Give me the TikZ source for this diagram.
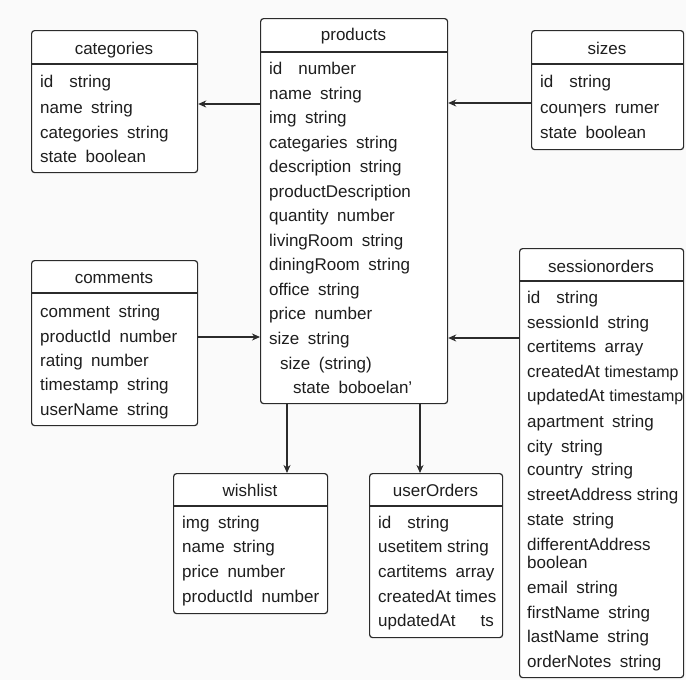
\documentclass[tikz,border=0pt]{standalone}
\usepackage{fontspec}
\setmainfont{Liberation Sans}
\usetikzlibrary{arrows.meta}
\definecolor{linec}{HTML}{2B2B2B}
\definecolor{textc}{HTML}{1E1E1E}
\definecolor{bgc}{HTML}{FAFAFA}
\newcommand\fgap{\hspace{8.5pt}}
\newcommand\igap{\hspace{16pt}}
\begin{document}
\begin{tikzpicture}[x=1pt,y=-1pt,
  tbl/.style={draw=linec, line width=1.2pt, rounded corners=3pt, fill=white, inner sep=0pt, anchor=north west},
  hline/.style={draw=linec, line width=1.2pt},
  ttl/.style={font=\fontsize{17}{20}\selectfont, text=textc, anchor=base, inner sep=0pt},
  fld/.style={font=\fontsize{17}{20}\selectfont, text=textc, anchor=base west, inner sep=0pt},
  conn/.style={draw=linec, line width=1.2pt, -{Stealth[length=8pt,width=7pt,inset=2.5pt]}}]
\useasboundingbox[fill=bgc] (0,0) rectangle (686,680);

% categories
\node[tbl, minimum width=166pt, minimum height=142pt] (cat) at (31,30) {};
\draw[hline] (cat.west |- 0,64) -- (cat.east |- 0,64);
\node[ttl] (cat-t) at (114,54) {categories};
\foreach \t/\y [count=\i] in {id\igap string/82, name\fgap string/108, categories\fgap string/133, state\fgap boolean/157}
  \node[fld] (cat-\i) at (40,\y+5) {\t};

% products
\node[tbl, minimum width=187pt, minimum height=385pt] (prod) at (260,18) {};
\draw[hline] (prod.west |- 0,52) -- (prod.east |- 0,52);
\node[ttl] (prod-t) at (353.5,40) {products};
\foreach \t/\x/\y [count=\i] in {id\igap number/269/69, name\fgap string/269/94, img\fgap string/269/118,
  categaries\fgap string/269/143, description\fgap string/269/167, productDescription/269/192,
  quantity\fgap number/269/216, livingRoom\fgap string/269/241, diningRoom\fgap string/269/265,
  office\fgap string/269/290, price\fgap number/269/314, size\fgap string/269/339,
  size\fgap (string)/280/364, state\fgap boboelan'/293/388}
  \node[fld] (prod-\i) at (\x,\y+5) {\t};

% sizes
\node[tbl, minimum width=152pt, minimum height=119pt] (sz) at (531,30) {};
\draw[hline] (sz.west |- 0,64) -- (sz.east |- 0,64);
\node[ttl] (sz-t) at (607,54) {sizes};
\foreach \t/\y [count=\i] in {id\igap string/82, counɿers\fgap rumer/108, state\fgap boolean/133}
  \node[fld] (sz-\i) at (540,\y+5) {\t};

% comments
\node[tbl, minimum width=166pt, minimum height=165pt] (com) at (31,260) {};
\draw[hline] (com.west |- 0,293) -- (com.east |- 0,293);
\node[ttl] (com-t) at (114,283) {comments};
\foreach \t/\y [count=\i] in {comment\fgap string/312, productId\fgap number/337, rating\fgap number/361,
  timestamp\fgap string/385, userName\fgap string/410}
  \node[fld] (com-\i) at (40,\y+5) {\t};

% sessionorders
\node[tbl, minimum width=164pt, minimum height=429pt] (so) at (519,248) {};
\draw[hline] (so.west |- 0,281) -- (so.east |- 0,281);
\node[ttl] (so-t) at (601,272) {sessionorders};
\foreach \t/\y [count=\i] in {id\igap string/298, sessionId\fgap string/323, certitems\fgap array/347,
  createdAt {\fontsize{16}{18}\selectfont timestamp}/372, updatedAt {\fontsize{16}{18}\selectfont timestamp}/396,
  apartment\fgap string/422, city\fgap string/447, country\fgap string/470, streetAddress string/495,
  state\fgap string/520, differentAddress/545, boolean/563, email\fgap string/588,
  firstName\fgap string/613, lastName\fgap string/637, orderNotes\fgap string/662}
  \node[fld] (so-\i) at (527,\y+5) {\t};

% wishlist
\node[tbl, minimum width=154pt, minimum height=140pt] (wish) at (173,473) {};
\draw[hline] (wish.west |- 0,506) -- (wish.east |- 0,506);
\node[ttl] (wish-t) at (250,496) {wishlist};
\foreach \t/\y [count=\i] in {img\fgap string/523, name\fgap string/547, price\fgap number/572, productId\fgap number/597}
  \node[fld] (wish-\i) at (182,\y+5) {\t};

% userOrders
\node[tbl, minimum width=133pt, minimum height=164pt] (uo) at (369,473) {};
\draw[hline] (uo.west |- 0,506) -- (uo.east |- 0,506);
\node[ttl] (uo-t) at (435.5,496) {userOrders};
\foreach \t/\y [count=\i] in {id\igap string/523, usetitem string/547, cartitems\fgap array/572, createdAt times/597, updatedAt/621}
  \node[fld] (uo-\i) at (378,\y+5) {\t};
\node[fld, anchor=base east] (uo-ts) at (494,626) {ts};

% connectors
\draw[conn] (prod.west |- 0,104) -- (cat.east |- 0,104);
\draw[conn] (sz.west |- 0,103) -- (prod.east |- 0,103);
\draw[conn] (com.east |- 0,337) -- (prod.west |- 0,337);
\draw[conn] (so.west |- 0,338) -- (prod.east |- 0,338);
\draw[conn] (prod.south -| 287,0) -- (wish.north -| 287,0);
\draw[conn] (prod.south -| 420,0) -- (uo.north -| 420,0);
\end{tikzpicture}
\end{document}
